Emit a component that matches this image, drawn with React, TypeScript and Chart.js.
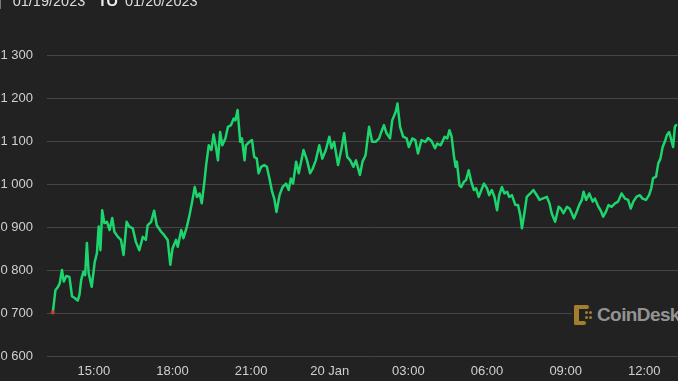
import React, { useEffect, useRef } from "react";
import { Chart, registerables } from "chart.js";

Chart.register(...registerables);

// minutes after 13:00 on 19 Jan 2023
const times = [
  26, 32, 38, 42, 47, 51, 57, 64, 70, 76,
  83, 87, 91, 96, 100, 104, 108, 115, 122, 127,
  131, 135, 139, 144, 150, 156, 162, 167, 175, 182,
  188, 195, 201, 209, 216, 224, 232, 239, 243, 251,
  258, 264, 274, 281, 289, 295, 300, 308,
  312, 320, 325, 333, 339, 345, 351, 356, 362, 367,
  373, 377, 383, 389, 394, 400, 404, 409, 414, 421,
  427, 434, 440, 444, 449, 455, 459, 465, 468, 476,
  482, 487, 493, 497, 503, 510, 516, 522, 528, 533,
  538, 545, 552, 560, 566, 571, 576, 583, 589,
  600,
  608, 615, 621, 628, 636, 643, 651, 659, 664, 670,
  679, 687, 693, 700, 707, 714, 720, 729, 735, 742,
  750, 757, 765, 773, 778, 784, 790, 798, 803, 811,
  815, 821, 828, 836, 841, 849, 856, 862,
  870, 879, 885, 893, 901, 906, 914, 923, 929, 934,
  939, 944, 948, 951, 957, 961, 967, 972, 978, 984,
  990, 995, 1001, 1007, 1013, 1020, 1025, 1031, 1037, 1043,
  1048, 1054, 1060, 1066, 1071, 1077, 1085, 1091, 1096, 1100,
  1106, 1111, 1119, 1126, 1134, 1140, 1147,
  1157, 1163, 1168, 1176, 1184, 1189, 1195, 1203, 1209, 1214,
  1219, 1225, 1231, 1237, 1241, 1247, 1254, 1262, 1267, 1275,
  1280, 1286, 1292, 1298, 1305, 1313, 1320, 1328, 1336, 1343,
  1349, 1355, 1362, 1370, 1376, 1384, 1391, 1396, 1400, 1407,
  1412, 1417, 1422, 1427, 1432, 1437, 1442, 1446, 1450, 1453,
];

const prices = [
  20701, 20753, 20761, 20770, 20800, 20773, 20786, 20784, 20739, 20735,
  20729, 20742, 20777, 20796, 20788, 20863, 20793, 20761, 20819, 20839,
  20901, 20846, 20939, 20909, 20912, 20893, 20921, 20889, 20877, 20870,
  20835, 20912, 20901, 20897, 20866, 20846, 20877, 20870, 20904, 20912,
  20938, 20904, 20889, 20881, 20870, 20812, 20850, 20870,
  20854, 20893, 20874, 20901, 20928, 20959, 20993, 20970, 20978, 20955,
  21005, 21044, 21090, 21079, 21115, 21083, 21055, 21121, 21090, 21106,
  21133, 21137, 21152, 21148, 21172, 21098, 21106, 21055, 21090, 21098,
  21102, 21063, 21059, 21025, 21040, 21044, 21040, 21013, 20982, 20966,
  20935, 20974, 20993, 21001, 20986, 21013, 21001, 21052, 21025,
  21079,
  21055, 21025, 21036, 21055, 21090, 21059, 21079, 21110, 21083, 21098,
  21044, 21083, 21118, 21063, 21055, 21040, 21055, 21021, 21052, 21067,
  21133, 21098, 21098, 21106, 21121, 21137, 21118, 21106, 21148, 21168,
  21187, 21133, 21110, 21106, 21086, 21106, 21102, 21071,
  21102, 21098, 21107, 21100, 21083, 21094, 21090, 21110, 21106, 21125,
  21110, 21067, 21040, 21052, 20997, 20993, 21005, 21009, 21032, 21005,
  20986, 20990, 20970, 20986, 21001, 20990, 20974, 20986, 20970, 20939,
  20974, 20993, 20978, 20982, 20970, 20974, 20951, 20951, 20928, 20897,
  20935, 20970, 20978, 20986, 20974, 20963, 20966,
  20970, 20955, 20932, 20912, 20947, 20943, 20932, 20947, 20943, 20932,
  20920, 20935, 20951, 20963, 20982, 20963, 20978, 20959, 20966, 20947,
  20939, 20924, 20935, 20951, 20947, 20955, 20959, 20978, 20966, 20963,
  20943, 20959, 20970, 20974, 20966, 20963, 20974, 20990, 21013, 21017,
  21048, 21059, 21086, 21098, 21114, 21121, 21102, 21086, 21133, 21137,
];

const tickMinutes = [120, 300, 480, 660, 840, 1020, 1200, 1380];
const tickLabels = ["15:00", "18:00", "21:00", "20 Jan", "03:00", "06:00", "09:00", "12:00"];

const yMin = 20600;
const yMax = 21300;
const yStep = 100;
const xMin = 12.7;
const xMax = 1503;

const headerFrom = "01/19/2023";
const headerSep = "TO";
const headerTo = "01/20/2023";
const brand = "CoinDesk";

const fmt = (v: number) => String(v).replace(/\B(?=(\d{3})+(?!\d))/g, " ");

export default function App() {
  const ref = useRef<HTMLCanvasElement>(null);

  useEffect(() => {
    if (!ref.current) return;
    const n = Math.min(times.length, prices.length);
    const data = [] as { x: number; y: number }[];
    for (let i = 0; i < n; i++) data.push({ x: times[i], y: prices[i] });

    const chart = new Chart(ref.current, {
      type: "line",
      data: {
        datasets: [
          {
            data,
            borderColor: "#1cd66d",
            borderWidth: 2.5,
            borderJoinStyle: "round",
            borderCapStyle: "round",
            tension: 0,
            pointRadius: data.map((_, i) => (i === 0 ? 2 : 0)),
            pointBackgroundColor: "#d3352b",
            pointBorderWidth: 0,
            pointHoverRadius: 0,
          },
        ],
      },
      options: {
        animation: false,
        responsive: false,
        maintainAspectRatio: false,
        layout: { padding: { top: 55, left: 0, right: 0, bottom: 0 } },
        plugins: { legend: { display: false }, tooltip: { enabled: false } },
        scales: {
          x: {
            type: "linear",
            min: xMin,
            max: xMax,
            grid: { display: false, drawTicks: false },
            border: { display: false },
            afterBuildTicks: (s: any) => {
              s.ticks = tickMinutes.map((v) => ({ value: v }));
            },
            afterFit: (s: any) => {
              s.height = 25;
            },
            ticks: {
              autoSkip: false,
              maxRotation: 0,
              minRotation: 0,
              padding: 8,
              color: "#d0d0d0",
              font: { family: "Arial, 'Liberation Sans', sans-serif", size: 13 },
              callback: (v: any) => {
                const i = tickMinutes.indexOf(Number(v));
                return i >= 0 ? tickLabels[i] : "";
              },
            },
          },
          y: {
            min: yMin,
            max: yMax,
            afterFit: (s: any) => {
              s.width = 67;
            },
            grid: { color: "#464646", lineWidth: 1, drawTicks: false },
            border: { display: false },
            ticks: {
              stepSize: yStep,
              padding: 14,
              color: "#d0d0d0",
              font: { family: "Arial, 'Liberation Sans', sans-serif", size: 13 },
              callback: (v: any) => fmt(Number(v)),
            },
          },
        },
      },
    });
    return () => chart.destroy();
  }, []);

  const gold = "#a27e2d";
  return (
    <div
      style={{
        position: "fixed",
        left: 0,
        top: 0,
        width: 678,
        height: 381,
        overflow: "hidden",
        background: "#222222",
        fontFamily: "Arial, 'Liberation Sans', sans-serif",
      }}
    >
      <canvas
        ref={ref}
        width={720}
        height={381}
        style={{ position: "absolute", left: -20, top: 0, width: 720, height: 381 }}
      />
      <div style={{ position: "absolute", left: 0, top: 0, width: 1, height: 9, background: "#777" }} />
      <div
        style={{
          position: "absolute",
          left: 12.7,
          top: -6.3,
          fontSize: 14.5,
          lineHeight: "15px",
          color: "#dcdcdc",
          whiteSpace: "nowrap",
        }}
      >
        {headerFrom}
      </div>
      <div
        style={{
          position: "absolute",
          left: 98,
          top: -6.3,
          fontSize: 14.5,
          lineHeight: "15px",
          color: "#f0f0f0",
          fontWeight: 700,
          whiteSpace: "nowrap",
        }}
      >
        {headerSep}
      </div>
      <div
        style={{
          position: "absolute",
          left: 125,
          top: -6.3,
          fontSize: 14.5,
          lineHeight: "15px",
          color: "#dcdcdc",
          whiteSpace: "nowrap",
        }}
      >
        {headerTo}
      </div>
      <div
        style={{
          position: "absolute",
          left: 572,
          top: 303,
          width: 110,
          height: 24,
          background: "#222222",
        }}
      >
        <div style={{ position: "absolute", left: 2, top: 2, width: 15, height: 4, background: gold, borderRadius: 2 }} />
        <div style={{ position: "absolute", left: 2, top: 2, width: 5, height: 20, background: gold, borderRadius: 2 }} />
        <div style={{ position: "absolute", left: 2, top: 18, width: 12, height: 4, background: gold, borderRadius: 2 }} />
        <div style={{ position: "absolute", left: 13, top: 8, width: 3, height: 3, background: gold, borderRadius: 2 }} />
        <div style={{ position: "absolute", left: 17, top: 8, width: 3, height: 3, background: gold, borderRadius: 2 }} />
        <div style={{ position: "absolute", left: 13, top: 13, width: 3, height: 3, background: gold, borderRadius: 2 }} />
        <div style={{ position: "absolute", left: 17, top: 13, width: 3, height: 3, background: gold, borderRadius: 2 }} />
        <div
          style={{
            position: "absolute",
            left: 25,
            top: 2,
            fontSize: 19,
            lineHeight: "19px",
            fontWeight: 700,
            letterSpacing: -0.6,
            color: "#939393",
            whiteSpace: "nowrap",
          }}
        >
          {brand}
        </div>
      </div>
    </div>
  );
}
